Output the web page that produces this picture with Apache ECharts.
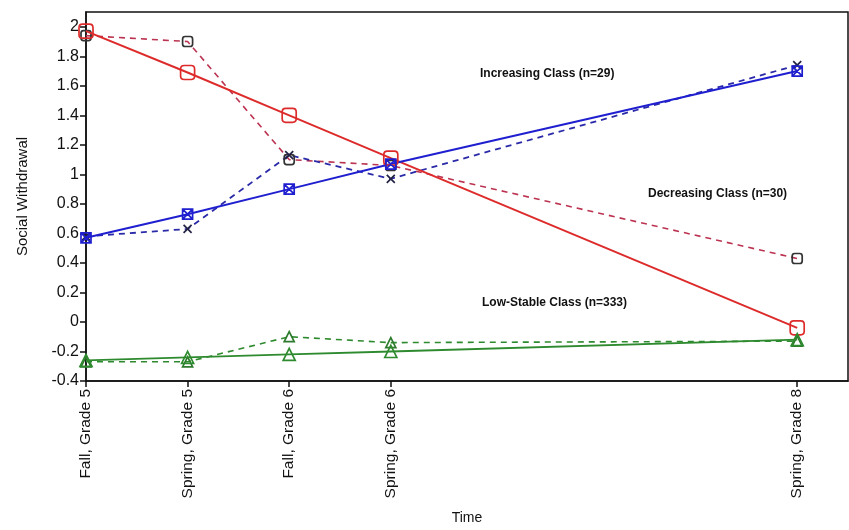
<!DOCTYPE html>
<html>
<head>
<meta charset="utf-8">
<script src="https://cdn.jsdelivr.net/npm/echarts@6/dist/echarts.min.js"></script>
<style>html,body{margin:0;padding:0;background:#fff}#c{width:849px;height:530px}</style>
</head>
<body>
<div id="c"></div>
<script>
// Time positions (semesters from Fall, Grade 5) and tick labels
var timePoints = [0, 1, 2, 3, 7];
var timeLabels = ['Fall, Grade 5', 'Spring, Grade 5', 'Fall, Grade 6', 'Spring, Grade 6', 'Spring, Grade 8'];
var yTicks = [-0.4, -0.2, 0, 0.2, 0.4, 0.6, 0.8, 1, 1.2, 1.4, 1.6, 1.8, 2];

// Decreasing class (n=30)
var decEstimated = [1.97, 1.69, 1.40, 1.11, -0.04];
var decObserved  = [1.94, 1.90, 1.10, 1.06, 0.43];
// Increasing class (n=29)
var incEstimated = [0.57, 0.73, 0.90, 1.07, 1.70];
var incObserved  = [0.58, 0.63, 1.13, 0.97, 1.74];
// Low-stable class (n=333)
var lowEstimated = [-0.26, -0.24, -0.22, -0.20, -0.12];
var lowObserved  = [-0.27, -0.27, -0.10, -0.14, -0.13];

function pairs(vals) { return timePoints.map(function (t, i) { return [t, vals[i]]; }); }

var xMark = 'path://M0,0L10,10M10,0L0,10';
var xSquare = 'path://M0,0L10,0L10,10L0,10ZM0,0L10,10M10,0L0,10';
var rSquare = 'path://M3,0L9,0Q12,0 12,3L12,9Q12,12 9,12L3,12Q0,12 0,9L0,3Q0,0 3,0Z';
var tri = 'path://M6,0L12,11L0,11Z';

function line(name, vals, color, dashed, symbol, symSize, symColor, width) {
  return {
    name: name, type: 'line', data: pairs(vals),
    symbol: symbol, symbolSize: symSize, showSymbol: true,
    lineStyle: { color: color, width: width, type: dashed ? [6, 5] : 'solid' },
    itemStyle: { color: 'rgba(0,0,0,0)', borderColor: symColor, borderWidth: 1.7 },
    emphasis: { disabled: true }, animation: false, z: dashed ? 2 : 3
  };
}

var chart = echarts.init(document.getElementById('c'), null, { renderer: 'canvas' });
var font = 'Liberation Sans, Arial, sans-serif';
var annFont = 'bold 12px "Liberation Sans Narrow", "Liberation Sans", Arial';
chart.setOption({
  animation: false,
  grid: { left: 86, top: 12, right: 1, bottom: 147, show: true, borderColor: '#111', borderWidth: 1.5 },
  xAxis: {
    type: 'value', min: 0, max: 7.5,
    name: 'Time', nameLocation: 'middle', nameGap: 130,
    nameTextStyle: { fontFamily: font, fontSize: 14, color: '#111' },
    axisLine: { show: true, onZero: false, lineStyle: { color: '#111', width: 1.5 } },
    axisTick: { show: true, length: 6, customValues: timePoints, lineStyle: { color: '#111', width: 1.5 } },
    axisLabel: {
      customValues: timePoints, rotate: 90, margin: 8,
      fontFamily: font, fontSize: 15.5, color: '#111',
      formatter: function (v) { var i = timePoints.indexOf(v); return i >= 0 ? timeLabels[i] : ''; }
    },
    splitLine: { show: false }
  },
  yAxis: {
    type: 'value', min: -0.4, max: 2.1,
    name: 'Social Withdrawal', nameLocation: 'middle', nameGap: 56,
    nameTextStyle: { fontFamily: font, fontSize: 15, color: '#111' },
    axisLine: { show: true, onZero: false, lineStyle: { color: '#111', width: 1.5 } },
    axisTick: { show: true, length: 6, customValues: yTicks, lineStyle: { color: '#111', width: 1.5 } },
    axisLabel: {
      customValues: yTicks, margin: 7, fontFamily: font, fontSize: 16, color: '#111',
      formatter: function (v) { return String(Math.round(v * 10) / 10); }
    },
    splitLine: { show: false }
  },
  graphic: [
    { type: 'text', left: 480, top: 68, style: { text: 'Increasing Class (n=29)', font: annFont, fill: '#111' } },
    { type: 'text', left: 648, top: 188, style: { text: 'Decreasing Class (n=30)', font: annFont, fill: '#111' } },
    { type: 'text', left: 482, top: 297, style: { text: 'Low-Stable Class (n=333)', font: annFont, fill: '#111' } }
  ],
  series: [
    line('Decreasing observed', decObserved, '#bb3350', true, rSquare, 10, '#333', 1.6),
    line('Increasing observed', incObserved, '#2a2aa8', true, xMark, 8, '#222244', 1.8),
    line('Low-stable observed', lowObserved, '#2e8a2e', true, tri, 10, '#2e7a2e', 1.6),
    line('Decreasing estimated', decEstimated, '#dd2b2b', false, rSquare, 14, '#dd2b2b', 2),
    line('Increasing estimated', incEstimated, '#1f1fd0', false, xSquare, 10, '#1f1fd0', 2),
    line('Low-stable estimated', lowEstimated, '#2e8a2e', false, tri, 12, '#2e8a2e', 1.8)
  ]
});
</script>
</body>
</html>
